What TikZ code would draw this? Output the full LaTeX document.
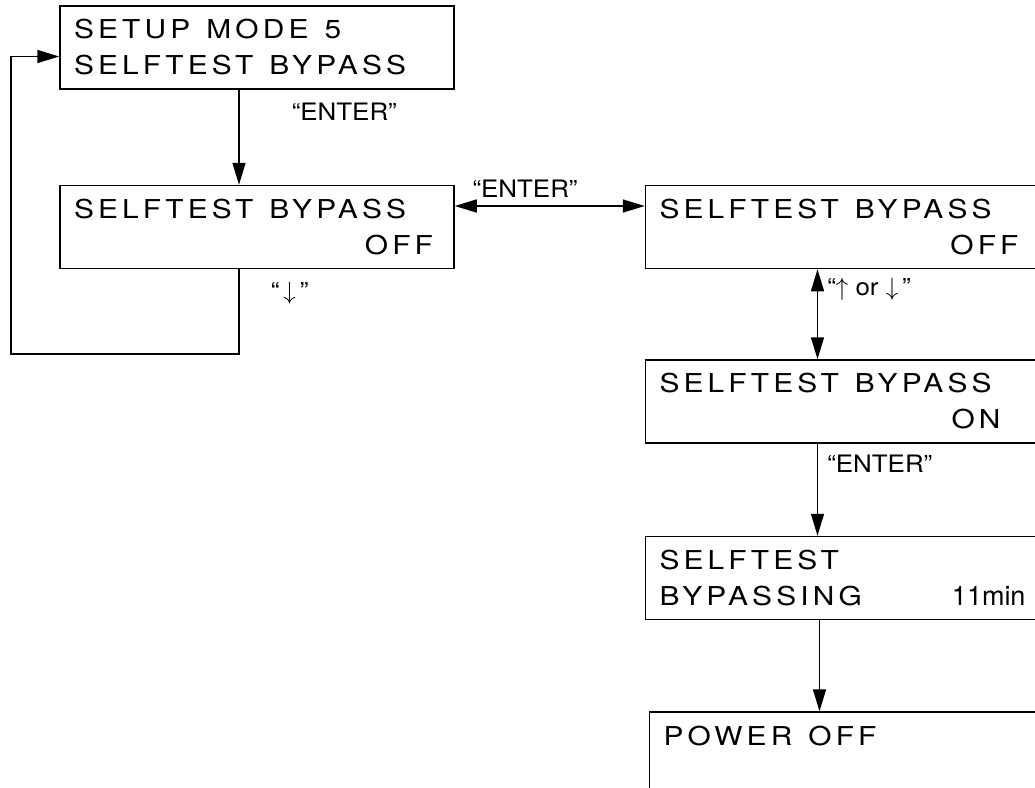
\documentclass[tikz,border=0pt]{standalone}
\usepackage{fontspec}
\setmainfont{TeX Gyre Heros}
\newfontfamily\lcdfont[LetterSpace=16,FakeStretch=1.15]{TeX Gyre Heros}
\newfontfamily\keyfont[FakeStretch=1.08]{TeX Gyre Heros}
\newcommand\gap{\hspace{16pt}}
\usetikzlibrary{arrows.meta,positioning}

\begin{document}
\begin{tikzpicture}[
    x=1pt, y=-1pt,
    node distance=95pt,
    panel/.style={draw, line width=1.5pt, minimum width=394pt, minimum height=83pt, inner xsep=14pt, text width=366pt, align=left, font=\lcdfont\fontsize{26}{36}\selectfont},
    arrow/.style={-{Triangle[length=22pt,width=13pt]}, line width=1.5pt},
    twoway/.style={{Triangle[length=22pt,width=13pt]}-{Triangle[length=22pt,width=13pt]}, line width=1.5pt},
    key/.style={font=\keyfont\fontsize{24}{26}\selectfont, inner sep=0pt}
]
\useasboundingbox (0,0) rectangle (1035,787);
\clip (0,0) rectangle (1035,787);
\node[panel] (mode) at (257,47.5) {SETUP\gap MODE\gap 5\\SELFTEST\gap BYPASS};
\node[panel, below=95pt of mode] (off) {SELFTEST\gap BYPASS\\\hspace*{\fill}OFF\kern7pt};
\node[panel, right=190pt of off] (offsel) {SELFTEST\gap BYPASS\\\hspace*{\fill}OFF\kern7pt};
\node[panel, below=90pt of offsel] (onsel) {SELFTEST\gap BYPASS\\\hspace*{\fill}ON\kern25pt};
\node[panel, below=92pt of onsel] (bypassing) {SELFTEST\\BYPASSING\hfill{\normalfont\fontsize{27}{36}\selectfont 11min}};
\node[panel, below=91pt of bypassing, xshift=4pt] (poweroff) {POWER\gap OFF\\\mbox{}};
\coordinate (turn) at (11,354);
\draw[arrow] ([xshift=-18pt]mode.south) -- ([xshift=-18pt]off.north)
    node[key, pos=0.23, right=52pt] {“ENTER”};
\draw[arrow] ([xshift=-18pt]off.south) |- node[key, pos=0.14, right=31pt] {“\,$\downarrow$\,”}
    (turn) |- ([yshift=-9pt]mode.west);
\draw[twoway] ([yshift=21pt]off.east) -- ([yshift=21pt]offsel.west)
    node[key, pos=0.37, above=8pt] {“ENTER”};
\draw[twoway] ([xshift=-25pt]offsel.south) -- ([xshift=-25pt]onsel.north)
    node[key, pos=0.22, right=9pt] {“$\uparrow$ or $\downarrow$\,”};
\draw[arrow] ([xshift=-25pt]onsel.south) -- ([xshift=-25pt]bypassing.north)
    node[key, pos=0.22, right=9pt] {“ENTER”};
\draw[arrow] ([xshift=-23pt]bypassing.south) -- ([xshift=-23pt]bypassing.south |- poweroff.north);
\end{tikzpicture}
\end{document}
